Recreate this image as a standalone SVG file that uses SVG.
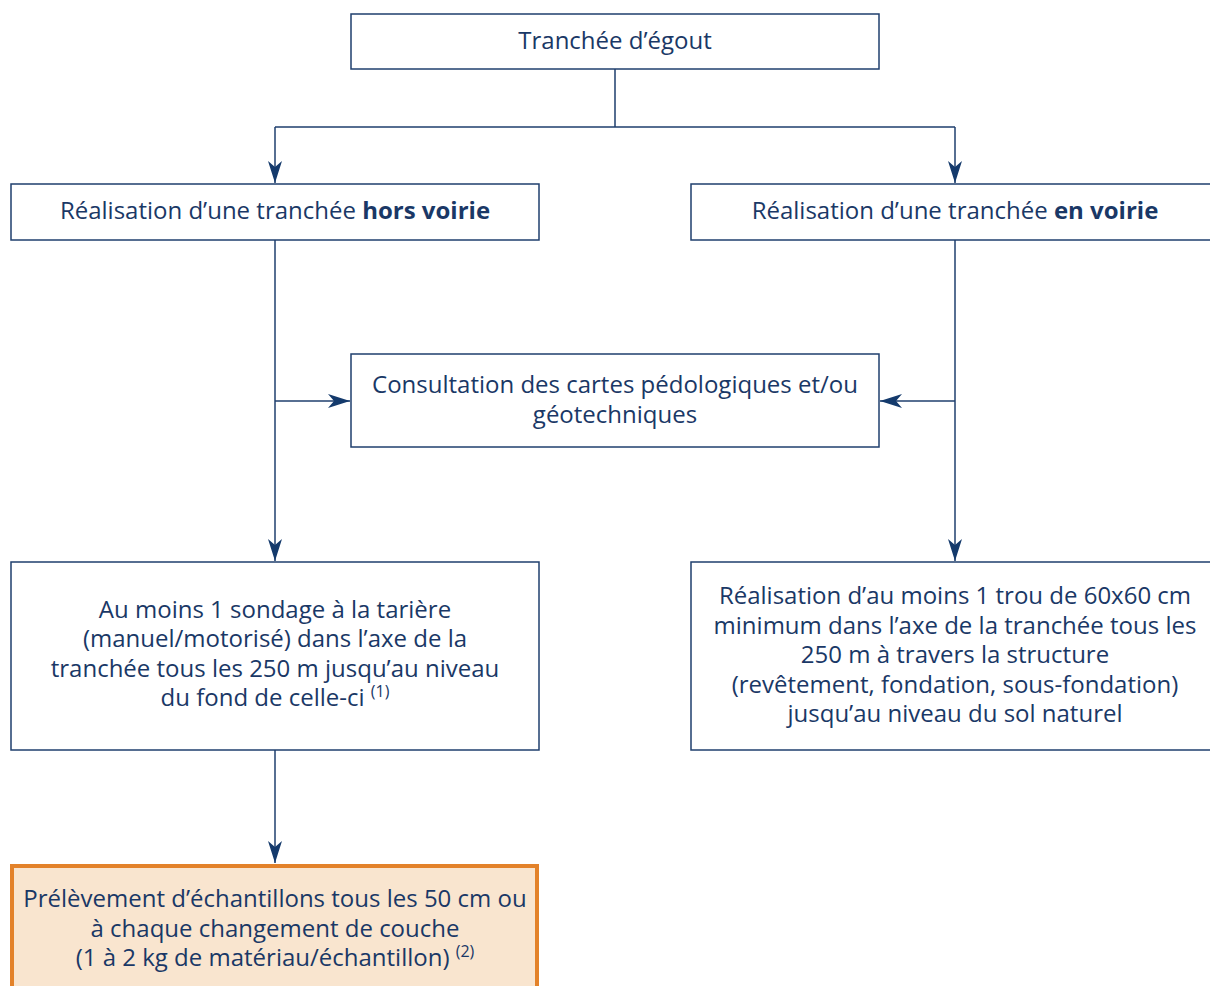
<svg xmlns="http://www.w3.org/2000/svg" width="1210" height="986" viewBox="0 0 1210 986">
<style>
.box{fill:#fff;stroke:#1f3f6e;stroke-width:1.5}
.hl{fill:#f9e5cf;stroke:#e3822a;stroke-width:4}
.t{font-family:"Open Sans","Noto Sans",sans-serif;font-size:24px;fill:#1a3866;text-anchor:middle}
.b{font-weight:bold}
.sup{font-size:16px}
.c{fill:none;stroke:#1f3f6e;stroke-width:1.5}
</style>
<defs>
<marker id="ah" viewBox="0 0 22 14" refX="22" refY="7" markerWidth="22" markerHeight="14" markerUnits="userSpaceOnUse" orient="auto">
<path d="M0,0 L22,7 L0,14 L6,7 Z" fill="#143a6c"/>
</marker>
</defs>
<rect width="1210" height="986" fill="#fff"/>
<g id="connectors">
<path class="c" d="M615,69 V127 M275,127 H955"/>
<path class="c" d="M275,127 V183" marker-end="url(#ah)"/>
<path class="c" d="M955,127 V183" marker-end="url(#ah)"/>
<path class="c" d="M275,240 V561" marker-end="url(#ah)"/>
<path class="c" d="M955,240 V561" marker-end="url(#ah)"/>
<path class="c" d="M275,401 H350" marker-end="url(#ah)"/>
<path class="c" d="M955,401 H880" marker-end="url(#ah)"/>
<path class="c" d="M275,750 V863" marker-end="url(#ah)"/>
</g>
<g id="n1">
<rect class="box" x="351" y="14" width="528" height="55"/>
<text class="t" x="615" y="49">Tranchée d’égout</text>
</g>
<g id="n2">
<rect class="box" x="11" y="184" width="528" height="56"/>
<text class="t" x="275" y="219">Réalisation d’une tranchée <tspan class="b">hors voirie</tspan></text>
</g>
<g id="n3">
<rect class="box" x="691" y="184" width="530" height="56"/>
<text class="t" x="955" y="219">Réalisation d’une tranchée <tspan class="b">en voirie</tspan></text>
</g>
<g id="n4">
<rect class="box" x="351" y="354" width="528" height="93"/>
<text class="t" x="615" y="393">Consultation des cartes pédologiques et/ou</text>
<text class="t" x="615" y="423">géotechniques</text>
</g>
<g id="n5">
<rect class="box" x="11" y="562" width="528" height="188"/>
<text class="t" x="275" y="618">Au moins 1 sondage à la tarière</text>
<text class="t" x="275" y="647">(manuel/motorisé) dans l’axe de la</text>
<text class="t" x="275" y="677">tranchée tous les 250 m jusqu’au niveau</text>
<text class="t" x="275" y="706">du fond de celle-ci <tspan class="sup" dy="-9">(1)</tspan></text>
</g>
<g id="n6">
<rect class="box" x="691" y="562" width="530" height="188"/>
<text class="t" x="955" y="604">Réalisation d’au moins 1 trou de 60x60 cm</text>
<text class="t" x="955" y="634">minimum dans l’axe de la tranchée tous les</text>
<text class="t" x="955" y="663">250 m à travers la structure</text>
<text class="t" x="955" y="693">(revêtement, fondation, sous-fondation)</text>
<text class="t" x="955" y="722">jusqu’au niveau du sol naturel</text>
</g>
<g id="n7">
<rect class="hl" x="12" y="866" width="525" height="130"/>
<text class="t" x="275" y="907">Prélèvement d’échantillons tous les 50 cm ou</text>
<text class="t" x="275" y="937">à chaque changement de couche</text>
<text class="t" x="275" y="966">(1 à 2 kg de matériau/échantillon) <tspan class="sup" dy="-9">(2)</tspan></text>
</g>
</svg>
